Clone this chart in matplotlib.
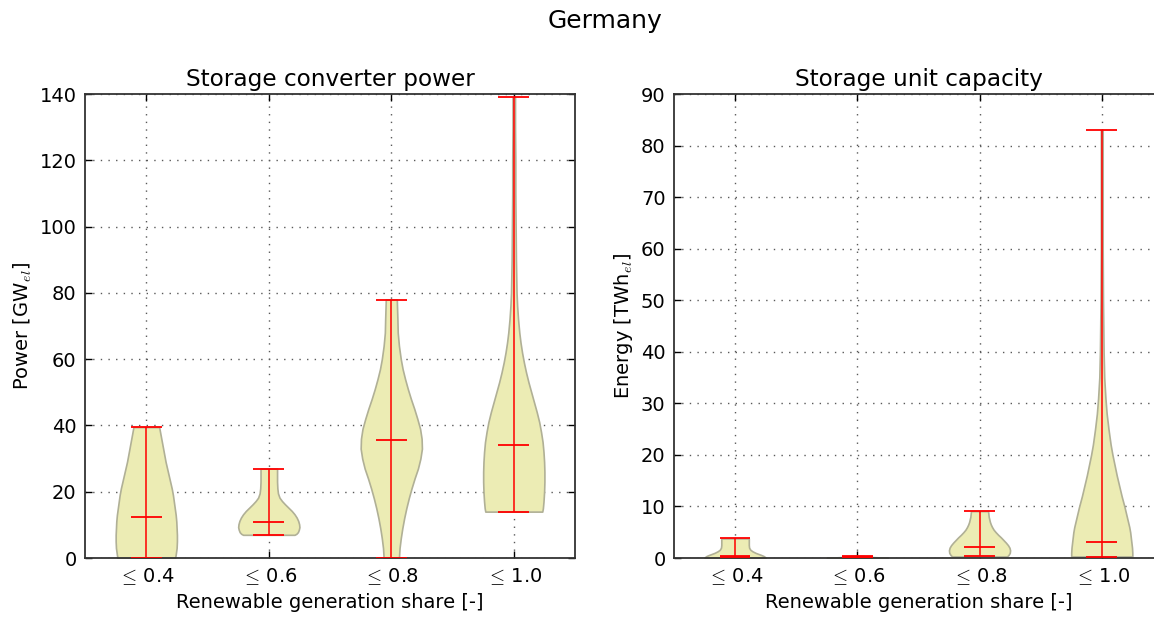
import matplotlib.pyplot as plt

plt.rcParams['mathtext.fontset'] = 'cm'

share_labels = [r'$\leq\,$0.4', r'$\leq\,$0.6', r'$\leq\,$0.8', r'$\leq\,$1.0']
positions = [1, 2, 3, 4]

# storage converter power [GW_el]: density profiles (y, relative width) and stats
power_y = [
    [0, 1, 3, 5, 7, 9, 11, 13, 15, 17, 19, 21, 23, 25, 27, 29, 31, 33, 35, 37, 39.5],
    [7, 7.3, 7.8, 8.5, 9.3, 10.2, 11.2, 12.2, 13.2, 14.2, 15.2, 16.2, 17.2, 18.2, 19.5, 21, 23, 25, 27],
    [0, 3, 6, 9, 12, 15, 18, 21, 24, 27, 30, 33, 36, 39, 42, 45, 48, 51, 54, 57, 60, 64, 68, 72, 75, 78],
    [14, 15, 17, 20, 23, 26, 29, 32, 35, 38, 41, 44, 47, 50, 53, 56, 59, 62, 65, 68, 72, 76, 80,
     90, 100, 110, 120, 130, 139],
]
power_dens = [
    [0.94, 0.96, 0.99, 1.0, 1.0, 0.99, 0.98, 0.96, 0.93, 0.9, 0.87, 0.83, 0.78, 0.73, 0.68,
     0.63, 0.59, 0.55, 0.51, 0.47, 0.42],
    [0.84, 0.9, 0.95, 0.98, 1.0, 0.99, 0.96, 0.91, 0.84, 0.75, 0.64, 0.53, 0.43, 0.35, 0.3,
     0.28, 0.27, 0.27, 0.27],
    [0.25, 0.27, 0.31, 0.36, 0.42, 0.49, 0.57, 0.66, 0.76, 0.87, 0.95, 1.0, 0.99, 0.94, 0.85,
     0.75, 0.64, 0.54, 0.45, 0.37, 0.31, 0.25, 0.21, 0.2, 0.19, 0.18],
    [0.93, 0.95, 0.97, 0.99, 1.0, 1.0, 0.99, 0.97, 0.94, 0.89, 0.83, 0.75, 0.66, 0.57, 0.48,
     0.4, 0.33, 0.27, 0.22, 0.18, 0.14, 0.11, 0.09, 0.07, 0.06, 0.05, 0.05, 0.04, 0.04],
]
power_min = [0, 7, 0, 14]
power_median = [12.5, 11, 35.5, 34]
power_max = [39.5, 27, 78, 139]

# storage unit capacity [TWh_el]
energy_y = [
    [0.05, 0.2, 0.4, 0.6, 0.8, 1.0, 1.3, 1.6, 2.0, 2.5, 3.0, 3.8],
    [0.05, 0.15, 0.25, 0.4],
    [0.3, 0.6, 1.0, 1.5, 2.0, 2.5, 3.0, 3.5, 4.0, 4.5, 5.0, 5.5, 6.0, 6.5, 7.0, 8.0, 9.1],
    [0.3, 1, 2, 3, 4, 5, 6, 7, 8, 9, 10, 12, 14, 16, 18, 20, 22, 25, 28, 31, 35, 40, 50, 60, 70, 83],
]
energy_dens = [
    [1.0, 0.98, 0.93, 0.85, 0.76, 0.67, 0.57, 0.5, 0.46, 0.45, 0.45, 0.45],
    [1.0, 0.6, 0.3, 0.2],
    [0.9, 0.95, 0.99, 1.0, 0.98, 0.93, 0.86, 0.78, 0.7, 0.61, 0.53, 0.46, 0.41, 0.37, 0.34, 0.3, 0.28],
    [1.0, 1.0, 0.99, 0.97, 0.95, 0.93, 0.9, 0.86, 0.82, 0.78, 0.74, 0.65, 0.57, 0.49, 0.42, 0.35,
     0.29, 0.22, 0.16, 0.12, 0.08, 0.06, 0.04, 0.03, 0.03, 0.03],
]
energy_min = [0.15, 0.05, 0.3, 0.25]
energy_median = [0.3, 0.15, 2.1, 3.1]
energy_max = [3.8, 0.4, 9.1, 83]


def make_stats(ys, dens, mins, medians, maxs):
    stats = []
    for y, d, lo, med, hi in zip(ys, dens, mins, medians, maxs):
        stats.append({'coords': y, 'vals': d, 'mean': med,
                      'median': med, 'min': lo, 'max': hi})
    return stats


def draw_violins(ax, stats):
    parts = ax.violin(stats, positions=positions, widths=0.5,
                      showmeans=False, showextrema=True, showmedians=True)
    for body in parts['bodies']:
        body.set_facecolor('#ececb4')
        body.set_edgecolor('#b0b096')
        body.set_linewidth(1.2)
        body.set_alpha(1)
        body.set_zorder(2)
    for key in ['cmins', 'cmaxes', 'cbars', 'cmedians']:
        parts[key].set_color('#ff0000')
        parts[key].set_linewidth(1.3)
        parts[key].set_zorder(3)
    parts['cbars'].set_alpha(0.85)


def style_axes(ax):
    ax.set_axisbelow(True)
    ax.grid(True, color='0.35', linestyle=(0, (1, 4.5)), linewidth=1.0)
    ax.tick_params(direction='in', top=True, right=True, labelsize=14,
                   length=5, width=1, pad=6)
    ax.set_xlim(0.5, 4.5)
    ax.set_xticks(positions)
    ax.set_xticklabels(share_labels)
    ax.set_xlabel('Renewable generation share [-]', fontsize=14)
    for sp in ax.spines.values():
        sp.set_linewidth(1.3)
        sp.set_color('0.2')


fig = plt.figure(figsize=(11.54, 6.17), dpi=100)
ax1 = fig.add_axes([0.0737, 0.0956, 0.4246, 0.752])
ax2 = fig.add_axes([0.584, 0.0956, 0.4237, 0.752])

draw_violins(ax1, make_stats(power_y, power_dens, power_min, power_median, power_max))
style_axes(ax1)
ax1.set_ylim(0, 140)
ax1.set_yticks(range(0, 141, 20))
ax1.set_ylabel(r'Power [GW$_{el}$]', fontsize=14)
ax1.set_title('Storage converter power', fontsize=16.7, pad=6)

draw_violins(ax2, make_stats(energy_y, energy_dens, energy_min, energy_median, energy_max))
style_axes(ax2)
ax2.set_ylim(0, 90)
ax2.set_yticks(range(0, 91, 10))
ax2.set_ylabel(r'Energy [TWh$_{el}$]', fontsize=14)
ax2.set_title('Storage unit capacity', fontsize=16.7, pad=6)

fig.suptitle('Germany', x=0.524, y=0.985, fontsize=18)

fig.savefig('out.png', dpi=100)
